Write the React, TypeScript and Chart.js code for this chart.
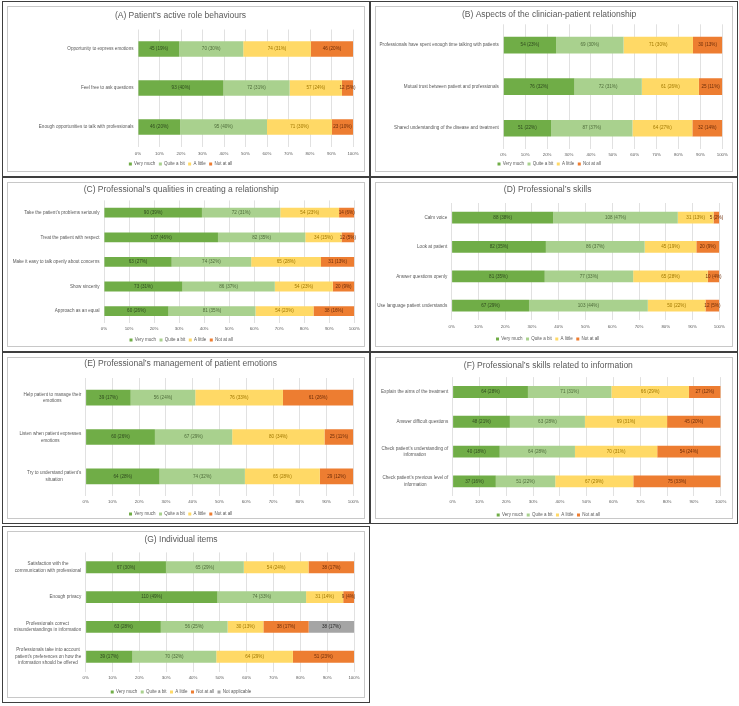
import React, { useEffect, useRef } from "react";
import { Chart, registerables } from "chart.js";

Chart.register(...registerables);

const FONT = "'Liberation Sans', Arial, sans-serif";
const TEXT_GRAY = "#595959";

const SERIES_NAMES = ["Very much", "Quite a bit", "A little", "Not at all", "Not applicable"];
const SERIES_COLORS = ["#70AD47", "#A9D18E", "#FFD966", "#ED7D31", "#A5A5A5"];
const LABEL_COLORS = ["#2F4A1E", "#4E6B3A", "#A07800", "#6E2D08", "#262626"];

// (A) Patient's active role behaviours
const A_CATS = ["Opportunity to express emotions", "Feel free to ask questions", "Enough opportunities to talk with professionals"];
const A_VERY = [45, 93, 46];
const A_VERY_PCT = [19, 40, 20];
const A_QUITE = [70, 72, 95];
const A_QUITE_PCT = [30, 31, 40];
const A_LITTLE = [74, 57, 71];
const A_LITTLE_PCT = [31, 24, 30];
const A_NOT = [46, 12, 23];
const A_NOT_PCT = [20, 5, 10];

// (B) Aspects of the clinician-patient relationship
const B_CATS = ["Professionals have spent enough time talking with patients", "Mutual trust between patient and professionals", "Shared understanding of the disease and treatment"];
const B_VERY = [54, 76, 51];
const B_VERY_PCT = [23, 32, 22];
const B_QUITE = [69, 72, 87];
const B_QUITE_PCT = [30, 31, 37];
const B_LITTLE = [71, 61, 64];
const B_LITTLE_PCT = [30, 26, 27];
const B_NOT = [30, 25, 32];
const B_NOT_PCT = [13, 11, 14];

// (C) Professional's qualities in creating a relationship
const C_CATS = ["Take the patient’s problems seriously", "Treat the patient with respect", "Make it easy to talk openly about concerns", "Show sincerity", "Approach as an equal"];
const C_VERY = [90, 107, 63, 73, 60];
const C_VERY_PCT = [39, 46, 27, 31, 26];
const C_QUITE = [72, 82, 74, 86, 81];
const C_QUITE_PCT = [31, 35, 32, 37, 35];
const C_LITTLE = [54, 34, 65, 54, 54];
const C_LITTLE_PCT = [23, 15, 28, 23, 23];
const C_NOT = [14, 12, 31, 20, 38];
const C_NOT_PCT = [6, 5, 13, 9, 16];

// (D) Professional's skills
const D_CATS = ["Calm voice", "Look at patient", "Answer questions openly", "Use language patient understands"];
const D_VERY = [88, 82, 81, 67];
const D_VERY_PCT = [38, 35, 35, 29];
const D_QUITE = [108, 86, 77, 103];
const D_QUITE_PCT = [47, 37, 33, 44];
const D_LITTLE = [31, 45, 65, 50];
const D_LITTLE_PCT = [13, 19, 28, 22];
const D_NOT = [5, 20, 10, 12];
const D_NOT_PCT = [2, 9, 4, 5];

// (E) Professional's management of patient emotions
const E_CATS = [["Help patient to manage their", "emotions"], ["Listen when patient expresses", "emotions"], ["Try to understand patient’s", "situation"]];
const E_VERY = [39, 60, 64];
const E_VERY_PCT = [17, 26, 28];
const E_QUITE = [56, 67, 74];
const E_QUITE_PCT = [24, 29, 32];
const E_LITTLE = [76, 80, 65];
const E_LITTLE_PCT = [33, 34, 28];
const E_NOT = [61, 25, 29];
const E_NOT_PCT = [26, 11, 12];

// (F) Professional's skills related to information
const F_CATS = ["Explain the aims of the treatment", "Answer difficult questions", ["Check patient’s understanding of", "information"], ["Check patient’s previous level of", "information"]];
const F_VERY = [64, 48, 40, 37];
const F_VERY_PCT = [28, 21, 18, 16];
const F_QUITE = [71, 63, 64, 51];
const F_QUITE_PCT = [31, 28, 28, 22];
const F_LITTLE = [66, 69, 70, 67];
const F_LITTLE_PCT = [29, 31, 31, 29];
const F_NOT = [27, 45, 54, 75];
const F_NOT_PCT = [12, 20, 24, 33];

// (G) Individual items
const G_CATS = [["Satisfaction with the", "communication with professional"], "Enough privacy", ["Professionals correct", "misunderstandings in information"], ["Professionals take into account", "patient’s preferences on how the", "information should be offered"]];
const G_VERY = [67, 110, 63, 39];
const G_VERY_PCT = [30, 49, 28, 17];
const G_QUITE = [65, 74, 56, 70];
const G_QUITE_PCT = [29, 33, 25, 32];
const G_LITTLE = [54, 31, 30, 64];
const G_LITTLE_PCT = [24, 14, 13, 29];
const G_NOT = [38, 9, 38, 51];
const G_NOT_PCT = [17, 4, 17, 23];
const G_NA = [null, null, 38, null];
const G_NA_PCT = [null, null, 17, null];

const X_MAX = 100;
const X_STEP = 10;

// ---- layout / style (not data) ----
const TITLE_SIZE = 8.5;
const SMALL = 4.6;
const TICK_SIZE = 4.4;
const LEGEND_SIZE = 4.5;
const LEGEND_PAD = 3.5;
const CAT_GAP = 4.5;
const CAT_LINE = 6.5;

type Geo = {
  titleY: number;
  plotTop: number;
  plotBottom: number;
  plotLeft: number;
  plotRight: number;
  tickY: number;
  legendY: number;
};

type PanelDef = {
  title: string;
  cats: any[];
  counts: (number | null)[][];
  pcts: (number | null)[][];
  box: { x: number; y: number; w: number; h: number };
  geo: Geo;
};

const PANELS: PanelDef[] = [
  {
    title: "(A) Patient’s active role behaviours",
    cats: A_CATS,
    counts: [A_VERY, A_QUITE, A_LITTLE, A_NOT],
    pcts: [A_VERY_PCT, A_QUITE_PCT, A_LITTLE_PCT, A_NOT_PCT],
    box: { x: 7, y: 6, w: 358, h: 166 },
    geo: { titleY: 9, plotTop: 22.5, plotBottom: 139.5, plotLeft: 130, plotRight: 345, tickY: 147, legendY: 157 },
  },
  {
    title: "(B) Aspects of the clinician-patient relationship",
    cats: B_CATS,
    counts: [B_VERY, B_QUITE, B_LITTLE, B_NOT],
    pcts: [B_VERY_PCT, B_QUITE_PCT, B_LITTLE_PCT, B_NOT_PCT],
    box: { x: 375, y: 6, w: 358, h: 166 },
    geo: { titleY: 8, plotTop: 17.3, plotBottom: 142, plotLeft: 127.3, plotRight: 346.3, tickY: 148, legendY: 157 },
  },
  {
    title: "(C) Professional’s qualities in creating a relationship",
    cats: C_CATS,
    counts: [C_VERY, C_QUITE, C_LITTLE, C_NOT],
    pcts: [C_VERY_PCT, C_QUITE_PCT, C_LITTLE_PCT, C_NOT_PCT],
    box: { x: 7, y: 182, w: 358, h: 165 },
    geo: { titleY: 7, plotTop: 17.4, plotBottom: 140.4, plotLeft: 96, plotRight: 346.3, tickY: 146, legendY: 157 },
  },
  {
    title: "(D) Professional’s skills",
    cats: D_CATS,
    counts: [D_VERY, D_QUITE, D_LITTLE, D_NOT],
    pcts: [D_VERY_PCT, D_QUITE_PCT, D_LITTLE_PCT, D_NOT_PCT],
    box: { x: 375, y: 182, w: 358, h: 165 },
    geo: { titleY: 7, plotTop: 20, plotBottom: 137.3, plotLeft: 75.7, plotRight: 343.3, tickY: 143.7, legendY: 156 },
  },
  {
    title: "(E) Professional’s management of patient emotions",
    cats: E_CATS,
    counts: [E_VERY, E_QUITE, E_LITTLE, E_NOT],
    pcts: [E_VERY_PCT, E_QUITE_PCT, E_LITTLE_PCT, E_NOT_PCT],
    box: { x: 7, y: 357, w: 358, h: 162 },
    geo: { titleY: 6, plotTop: 20, plotBottom: 138, plotLeft: 77.7, plotRight: 345.3, tickY: 144, legendY: 156 },
  },
  {
    title: "(F) Professional’s skills related to information",
    cats: F_CATS,
    counts: [F_VERY, F_QUITE, F_LITTLE, F_NOT],
    pcts: [F_VERY_PCT, F_QUITE_PCT, F_LITTLE_PCT, F_NOT_PCT],
    box: { x: 375, y: 357, w: 358, h: 162 },
    geo: { titleY: 7.3, plotTop: 19.1, plotBottom: 138.3, plotLeft: 76.7, plotRight: 344.7, tickY: 144, legendY: 157 },
  },
  {
    title: "(G) Individual items",
    cats: G_CATS,
    counts: [G_VERY, G_QUITE, G_LITTLE, G_NOT, G_NA],
    pcts: [G_VERY_PCT, G_QUITE_PCT, G_LITTLE_PCT, G_NOT_PCT, G_NA_PCT],
    box: { x: 7, y: 531, w: 358, h: 167 },
    geo: { titleY: 8, plotTop: 20.4, plotBottom: 139.6, plotLeft: 77.7, plotRight: 346, tickY: 146, legendY: 160 },
  },
];

const catLabelPlugin = {
  id: "catLabels",
  afterDraw(chart: any) {
    const { ctx, chartArea } = chart;
    const yScale = chart.scales.y;
    ctx.save();
    ctx.font = `${SMALL}px ${FONT}`;
    ctx.fillStyle = TEXT_GRAY;
    ctx.textAlign = "center";
    ctx.textBaseline = "middle";
    (chart.data.labels as any[]).forEach((lab: any, i: number) => {
      const lines: string[] = Array.isArray(lab) ? lab : [lab];
      const w = Math.max(...lines.map((l) => ctx.measureText(l).width));
      const cx = chartArea.left - CAT_GAP - w / 2;
      const cy = yScale.getPixelForValue(i);
      const y0 = cy - ((lines.length - 1) * CAT_LINE) / 2;
      lines.forEach((l, j) => ctx.fillText(l, cx, y0 + j * CAT_LINE));
    });
    ctx.restore();
  },
};

const valueLabelPlugin = {
  id: "valueLabels",
  afterDatasetsDraw(chart: any) {
    const { ctx } = chart;
    ctx.save();
    ctx.font = `${SMALL}px ${FONT}`;
    ctx.textAlign = "center";
    ctx.textBaseline = "middle";
    chart.data.datasets.forEach((ds: any, di: number) => {
      const meta = chart.getDatasetMeta(di);
      meta.data.forEach((bar: any, i: number) => {
        const n = ds.counts[i];
        if (n == null) return;
        const { x, base, y } = bar.getProps(["x", "base", "y"], true);
        ctx.fillStyle = ds.labelColor;
        ctx.fillText(`${n} (${ds.pcts[i]}%)`, (x + base) / 2, y);
      });
    });
    ctx.restore();
  },
};

function Panel({ def }: { def: PanelDef }) {
  const ref = useRef<HTMLCanvasElement>(null);
  const W = def.box.w - 2;
  const H = def.box.h - 2;

  useEffect(() => {
    if (!ref.current) return;
    const g = def.geo;
    const totals = def.cats.map((_, i) =>
      def.counts.reduce((s, arr) => s + (arr[i] ?? 0), 0)
    );
    const datasets = def.counts.map((arr, si) => ({
      label: SERIES_NAMES[si],
      data: arr.map((v, i) => (v == null ? null : (v / totals[i]) * 100)),
      backgroundColor: SERIES_COLORS[si],
      borderWidth: 0,
      barPercentage: 0.4,
      categoryPercentage: 1,
      counts: arr,
      pcts: def.pcts[si],
      labelColor: LABEL_COLORS[si],
    }));

    const lh = TITLE_SIZE * 1.2;
    const legendH = H - g.legendY + LEGEND_PAD + LEGEND_SIZE / 2;
    const xAxisH = H - legendH - g.plotBottom;
    const tickPad = g.tickY - g.plotBottom - TICK_SIZE * 0.6;

    const chart = new Chart(ref.current, {
      type: "bar",
      data: { labels: def.cats, datasets: datasets as any },
      options: {
        animation: false,
        responsive: false,
        indexAxis: "y",
        layout: { padding: { left: 0, right: W - g.plotRight, top: 0, bottom: 0 } },
        plugins: {
          title: {
            display: true,
            text: def.title,
            color: TEXT_GRAY,
            font: { family: FONT, size: TITLE_SIZE, weight: "normal" as any },
            padding: { top: g.titleY - lh / 2, bottom: g.plotTop - g.titleY - lh / 2 },
          },
          legend: {
            position: "bottom",
            maxHeight: legendH,
            labels: {
              boxWidth: 3,
              boxHeight: 3,
              padding: LEGEND_PAD,
              color: TEXT_GRAY,
              font: { family: FONT, size: LEGEND_SIZE },
            },
          },
          tooltip: { enabled: false },
        },
        scales: {
          x: {
            stacked: true,
            min: 0,
            max: X_MAX,
            ticks: {
              stepSize: X_STEP,
              callback: (v: any) => `${v}%`,
              color: TEXT_GRAY,
              font: { family: FONT, size: TICK_SIZE },
              padding: tickPad,
              maxRotation: 0,
              autoSkip: false,
            },
            grid: { color: "#D9D9D9", lineWidth: 0.8, drawTicks: false },
            border: { display: false },
            afterFit: (s: any) => {
              s.height = xAxisH;
            },
          },
          y: {
            stacked: true,
            ticks: { display: false },
            grid: { display: false, drawTicks: false },
            border: { display: false },
            afterFit: (s: any) => {
              s.width = g.plotLeft;
            },
          },
        },
      },
      plugins: [catLabelPlugin, valueLabelPlugin],
    });
    return () => chart.destroy();
  }, []);

  const b = def.box;
  return (
    <>
      <div
        style={{
          position: "absolute",
          left: b.x - 5,
          top: b.y - 5,
          width: b.w + 10,
          height: b.h + 10,
          boxSizing: "border-box",
          border: "1px solid #3f3f3f",
        }}
      />
      <div
        style={{
          position: "absolute",
          left: b.x,
          top: b.y,
          width: b.w,
          height: b.h,
          boxSizing: "border-box",
          border: "1px solid #C8C8C8",
          background: "#fff",
        }}
      />
      <canvas
        ref={ref}
        width={W}
        height={H}
        style={{ position: "absolute", left: b.x + 1, top: b.y + 1, width: W, height: H }}
      />
    </>
  );
}

export default function App() {
  return (
    <div
      style={{
        position: "absolute",
        left: 0,
        top: 0,
        width: 739,
        height: 706,
        background: "#ffffff",
        overflow: "hidden",
      }}
    >
      {PANELS.map((p, i) => (
        <Panel key={i} def={p} />
      ))}
    </div>
  );
}
